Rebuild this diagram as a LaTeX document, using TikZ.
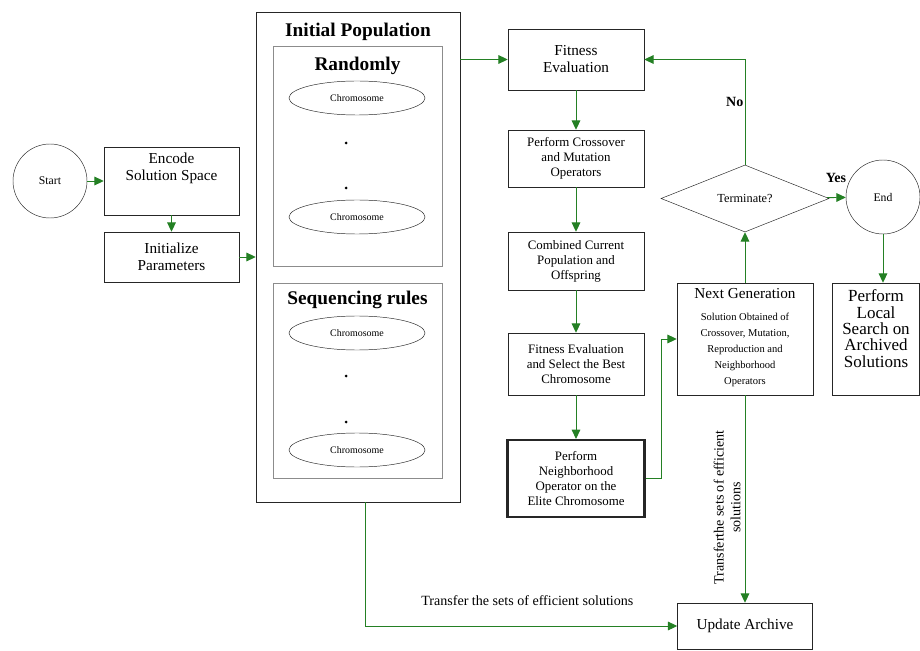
\documentclass[tikz,border=0pt]{standalone}
\usepackage{fontspec}
\setmainfont{Liberation Serif}
\usepackage{xcolor}
\usetikzlibrary{positioning,arrows.meta,shapes.geometric,calc}

\definecolor{flowgreen}{RGB}{36,128,36}

\begin{document}
\begin{tikzpicture}[
  x=0.03cm, y=-0.03cm,
  every node/.style={font=\fontsize{11}{12.8}\selectfont},
  % process boxes of the GA loop
  stepbox/.style={
    draw=black!85,
    fill=white,
    align=center,
    inner sep=2pt,
    minimum width=4.08cm
  },
  bigtext/.style={font=\fontsize{13}{14.5}\selectfont},
  popbox/.style={draw=black!85, minimum width=6.12cm, minimum height=14.7cm, inner sep=0pt},
  groupbox/.style={draw=black!45, minimum width=5.07cm, inner sep=0pt},
  grouptitle/.style={font=\bfseries\fontsize{16.5}{18}\selectfont, inner sep=0pt},
  chrom/.style={ellipse, draw=black!85, minimum width=4.08cm, minimum height=1.02cm,
    inner sep=0pt, font=\fontsize{8.5}{9}\selectfont},
  terminal/.style={circle, draw=black!85, minimum size=2.22cm, inner sep=0pt,
    font=\fontsize{10}{11}\selectfont},
  decision/.style={diamond, draw=black!85, aspect=2.5, minimum width=5.04cm,
    minimum height=2.01cm, inner sep=0pt, font=\fontsize{10.5}{12}\selectfont},
  arr/.style={-{Triangle[length=2.8mm,width=2.6mm]}, line width=0.8pt, draw=flowgreen},
  arrlabel/.style={font=\fontsize{12}{13}\selectfont, inner sep=1pt},
  answer/.style={font=\bfseries\fontsize{12}{13}\selectfont, inner sep=1pt}
]

\useasboundingbox (0,0) rectangle (920,651);

% left column
\node[terminal] (start) at (50,181) {Start};
\node[stepbox, bigtext, minimum width=4.05cm, minimum height=2.04cm, inner sep=0pt] (encode) at (171.5,181)
  {\parbox[c][2.04cm][t]{3.9cm}{\centering\vspace*{5pt}Encode\\Solution Space}};
\node[stepbox, bigtext, minimum width=4.05cm, minimum height=1.5cm] (init) at (171.5,257) {Initialize\\Parameters};

% initial population container
\node[popbox] (popbox) at (358,257) {};
\node[grouptitle] (poptitle) at (358,32) {Initial Population};

\node[groupbox, minimum height=6.6cm] (randbox) at (357.5,156) {};
\node[grouptitle] (randtitle) at (357.5,66) {Randomly};
\node[chrom] (rc1) at (357,98) {Chromosome};
\fill (346,143) circle (1.5);
\fill (346,188) circle (1.5);
\node[chrom] (rc2) at (357,217) {Chromosome};

\node[groupbox, minimum height=5.85cm] (seqbox) at (357.5,380.5) {};
\node[grouptitle] (seqtitle) at (357.5,300) {Sequencing rules};
\node[chrom] (sc1) at (357,333) {Chromosome};
\fill (346,376) circle (1.5);
\fill (346,422) circle (1.5);
\node[chrom] (sc2) at (357,450) {Chromosome};

% GA loop
\node[stepbox, bigtext, minimum height=1.83cm] (fit) at (576,59.5) {Fitness\\Evaluation};
\node[stepbox, minimum height=1.71cm] (cross) at (576,158.5) {Perform Crossover\\and Mutation\\Operators};
\node[stepbox, minimum height=1.74cm] (comb) at (576,261) {Combined Current\\Population and\\Offspring};
\node[stepbox, minimum height=1.86cm] (fitsel) at (576,364) {Fitness Evaluation\\and Select the Best\\Chromosome};
\node[stepbox, minimum width=4.11cm, minimum height=2.31cm, line width=1.8pt] (neigh) at (576,478.5)
  {Perform\\Neighborhood\\Operator on the\\Elite Chromosome};

\node[stepbox, bigtext, minimum height=3.36cm] (nextgen) at (745,339)
  {Next Generation\\[8pt]{\fontsize{9}{11.5}\selectfont\renewcommand{\arraystretch}{1.2}\begin{tabular}{@{}c@{}}Solution Obtained of\\Crossover, Mutation,\\Reproduction and\\Neighborhood\\Operators\end{tabular}}};
\node[decision] (term) at (745,198.5) {Terminate?};
\node[terminal] (endc) at (883,197) {End};
\node[stepbox, minimum width=2.61cm, minimum height=3.36cm, font=\fontsize{14.5}{14}\selectfont] (local) at (876,339)
  {Perform\\Local\\Search on\\Archived\\Solutions\\[4pt]};
\node[stepbox, bigtext, minimum width=4.05cm, minimum height=1.38cm] (archive) at (745,626) {Update Archive};

% connectors
\draw[arr] (start) -- (encode);
\draw[arr] (encode) -- (init);
\draw[arr] (init) -- (popbox);
\draw[arr] (fit.west -| popbox.east) -- (fit.west);
\draw[arr] (fit) -- (cross);
\draw[arr] (cross) -- (comb);
\draw[arr] (comb) -- (fitsel);
\draw[arr] (fitsel) -- (neigh);
\draw[arr] (neigh.east) -- ++(16,0) |- (nextgen.west);
\draw[arr] (nextgen) -- (term);
\draw[arr] (term.north) |- (fit.east)
  node[pos=0.3, left, answer] {No};
\draw[arr] (term) -- (endc);
\node[answer] (yes) at (836,178) {Yes};
\draw[arr] (endc.south) -- (endc.south |- local.north);
\draw[arr] (nextgen) -- (archive)
  node[pos=0.54, anchor=south, rotate=90, align=center, font=\fontsize{12}{14.5}\selectfont] {Transferthe sets of efficient\\solutions};
\draw[arr] ($(popbox.south)+(7,0)$) |- (archive.west)
  node[pos=0.76, above=16pt, arrlabel] {Transfer the sets of efficient solutions};

\end{tikzpicture}
\end{document}
